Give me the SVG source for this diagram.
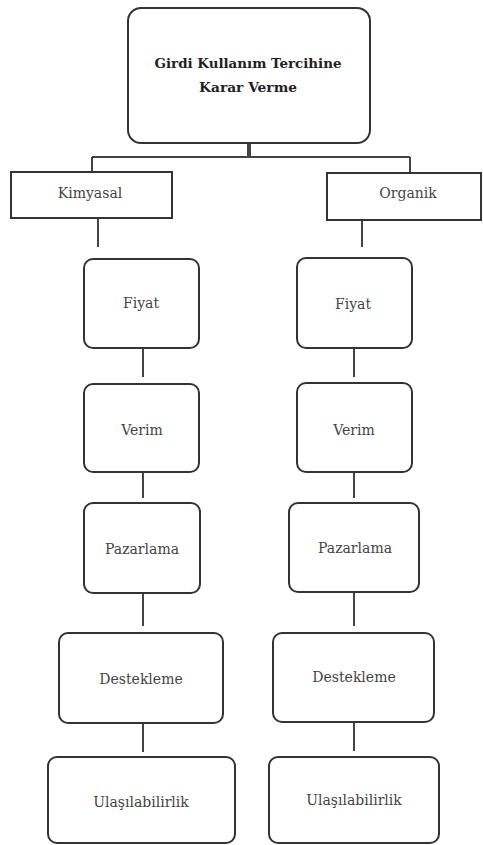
<svg xmlns="http://www.w3.org/2000/svg" width="483" height="845" viewBox="0 0 483 845">
<style>
.box{fill:#fff;stroke:#333;stroke-width:2}
.con{stroke:#444;stroke-width:2;fill:none}
.lbl{font-family:'DejaVu Serif',serif;font-size:14px;fill:#444;text-anchor:middle}
.ttl{font-family:'DejaVu Serif',serif;font-size:13px;font-weight:bold;fill:#222;text-anchor:middle}
</style>
<rect width="483" height="845" fill="#fff"/>
<g id="connectors">
<path class="con" d="M92,157 H410 M92,157 V172 M410,157 V173"/>
<path class="con" d="M249,143 V157" style="stroke-width:4"/>
<path class="con" d="M98,218 V247 M143,348 V377 M143,472 V498 M143,593 V626 M143,723 V752"/>
<path class="con" d="M362,220 V247 M354,348 V377 M354,472 V498 M354,592 V626 M354,722 V751"/>
</g>
<g id="root">
<rect class="box" x="128" y="8" width="242" height="135" rx="13"/>
<text class="ttl" x="248" y="68" textLength="187" lengthAdjust="spacingAndGlyphs">Girdi Kullanım Tercihine</text>
<text class="ttl" x="248" y="92" textLength="98" lengthAdjust="spacingAndGlyphs">Karar Verme</text>
</g>
<g id="kimyasal">
<rect class="box" x="11" y="172" width="161" height="46"/>
<text class="lbl" x="90" y="198">Kimyasal</text>
</g>
<g id="organik">
<rect class="box" x="327" y="173" width="154" height="47"/>
<text class="lbl" x="408" y="198">Organik</text>
</g>
<g id="k-fiyat">
<rect class="box" x="84" y="259" width="115" height="89" rx="9"/>
<text class="lbl" x="141" y="308">Fiyat</text>
</g>
<g id="k-verim">
<rect class="box" x="84" y="384" width="115" height="88" rx="9"/>
<text class="lbl" x="142" y="435">Verim</text>
</g>
<g id="k-pazarlama">
<rect class="box" x="84" y="503" width="116" height="90" rx="9"/>
<text class="lbl" x="142" y="554">Pazarlama</text>
</g>
<g id="k-destekleme">
<rect class="box" x="59" y="633" width="164" height="90" rx="9"/>
<text class="lbl" x="141" y="684">Destekleme</text>
</g>
<g id="k-ulasilabilirlik">
<rect class="box" x="48" y="757" width="187" height="86" rx="9"/>
<text class="lbl" x="141" y="807">Ulaşılabilirlik</text>
</g>
<g id="o-fiyat">
<rect class="box" x="297" y="258" width="115" height="90" rx="9"/>
<text class="lbl" x="353" y="309">Fiyat</text>
</g>
<g id="o-verim">
<rect class="box" x="297" y="383" width="115" height="89" rx="9"/>
<text class="lbl" x="354" y="435">Verim</text>
</g>
<g id="o-pazarlama">
<rect class="box" x="289" y="503" width="130" height="89" rx="9"/>
<text class="lbl" x="355" y="553">Pazarlama</text>
</g>
<g id="o-destekleme">
<rect class="box" x="273" y="633" width="161" height="89" rx="9"/>
<text class="lbl" x="354" y="682">Destekleme</text>
</g>
<g id="o-ulasilabilirlik">
<rect class="box" x="269" y="757" width="170" height="86" rx="9"/>
<text class="lbl" x="354" y="805">Ulaşılabilirlik</text>
</g>
</svg>
